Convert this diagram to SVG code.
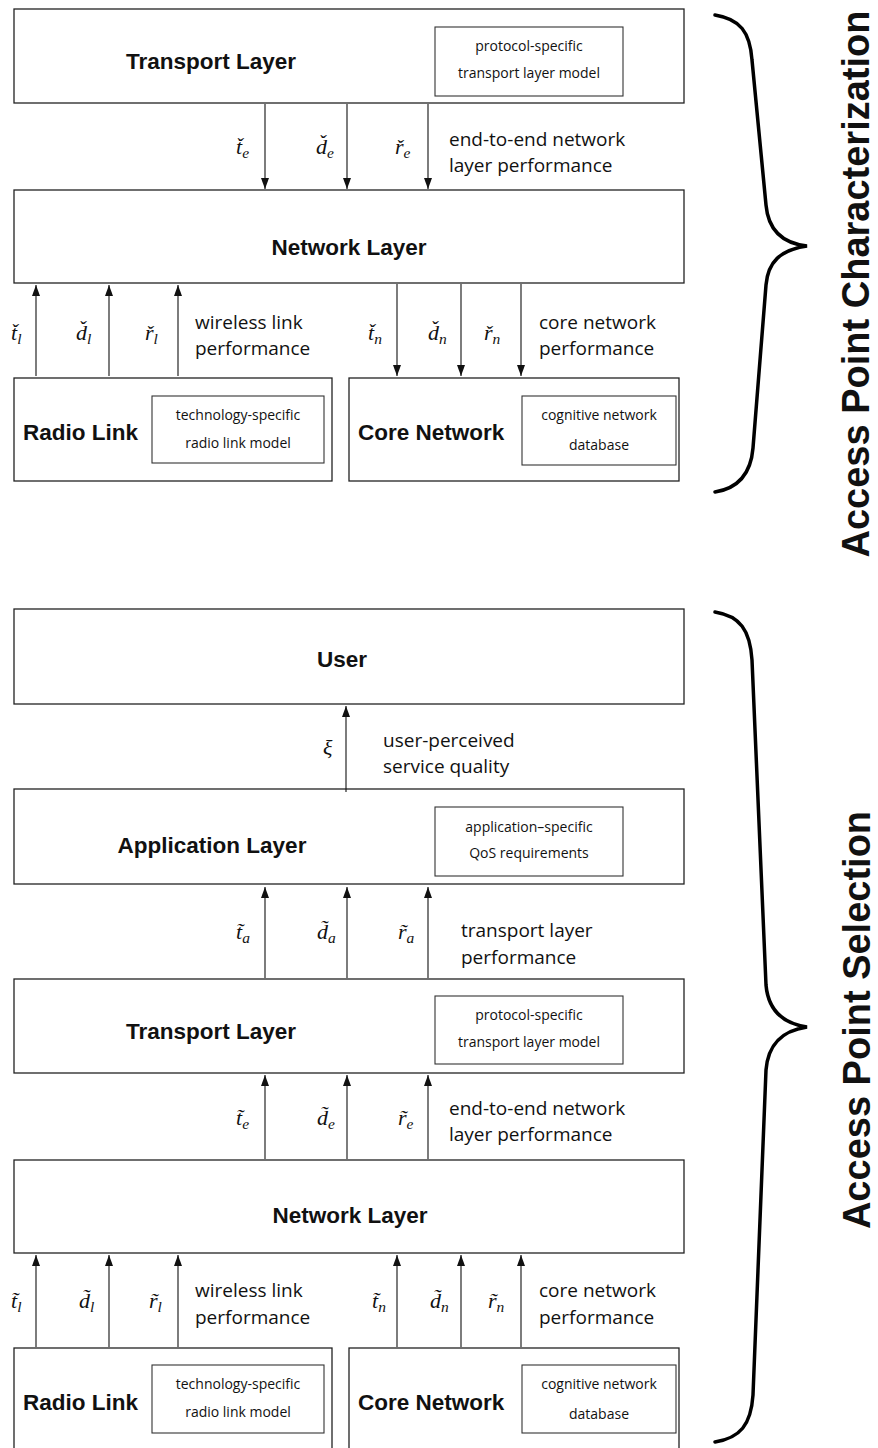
<svg xmlns="http://www.w3.org/2000/svg" width="878" height="1448" viewBox="0 0 878 1448">
<style>
.box{fill:#fff;stroke:#222;stroke-width:1.3}
.inner{fill:#fff;stroke:#333;stroke-width:1.1}
.title{font-family:"Liberation Sans",Arial,sans-serif;font-weight:bold;font-size:22.5px;fill:#111}
.mid{text-anchor:middle}
.small{font-family:"Open Sans","DejaVu Sans",sans-serif;font-size:14px;fill:#111;text-anchor:middle}
.lbl{font-family:"Open Sans","DejaVu Sans",sans-serif;font-size:19px;fill:#111}
.mi{font-family:"Liberation Serif","Times New Roman",serif;font-style:italic;font-size:22px;fill:#111}
.sb{font-size:15.5px}
.arr{stroke:#111;stroke-width:1.1;fill:none;marker-end:url(#ah)}
.brace{fill:none;stroke:#000;stroke-width:3.5;stroke-linecap:round}
.side{font-family:"Liberation Sans",Arial,sans-serif;font-weight:bold;font-size:38px;fill:#111;text-anchor:middle}
</style>
<defs>
<marker id="ah" viewBox="0 0 11 8" refX="11" refY="4" markerWidth="11" markerHeight="8" markerUnits="userSpaceOnUse" orient="auto">
<path d="M0,0 L11,4 L0,8 z" fill="#111"/>
</marker>
</defs>

<!-- ===== Access Point Characterization ===== -->
<g id="ch-transport">
<rect class="box" x="14" y="9" width="670" height="94"/>
<text class="title mid" x="211" y="69">Transport Layer</text>
<rect class="inner" x="435" y="27" width="188" height="69"/>
<text class="small" x="529" y="51">protocol-specific</text>
<text class="small" x="529" y="78">transport layer model</text>
</g>
<g id="ch-network">
<rect class="box" x="14" y="190" width="670" height="93"/>
<text class="title mid" x="349" y="255">Network Layer</text>
</g>
<g id="ch-radio">
<rect class="box" x="14" y="378" width="318" height="103"/>
<text class="title" x="23" y="440">Radio Link</text>
<rect class="inner" x="152" y="396" width="172" height="67"/>
<text class="small" x="238" y="420">technology-specific</text>
<text class="small" x="238" y="448">radio link model</text>
</g>
<g id="ch-core">
<rect class="box" x="349" y="378" width="330" height="103"/>
<text class="title" x="358" y="440">Core Network</text>
<rect class="inner" x="522" y="396" width="154" height="69"/>
<text class="small" x="599" y="420">cognitive network</text>
<text class="small" x="599" y="450">database</text>
</g>

<!-- ===== Access Point Selection ===== -->
<g id="sel-user">
<rect class="box" x="14" y="609" width="670" height="95"/>
<text class="title mid" x="342" y="667">User</text>
</g>
<g id="sel-application">
<rect class="box" x="14" y="789" width="670" height="95"/>
<text class="title mid" x="212" y="853">Application Layer</text>
<rect class="inner" x="435" y="807" width="188" height="69"/>
<text class="small" x="529" y="832">application–specific</text>
<text class="small" x="529" y="858">QoS requirements</text>
</g>
<g id="sel-transport">
<rect class="box" x="14" y="979" width="670" height="94"/>
<text class="title mid" x="211" y="1039">Transport Layer</text>
<rect class="inner" x="435" y="996" width="188" height="68"/>
<text class="small" x="529" y="1020">protocol-specific</text>
<text class="small" x="529" y="1047">transport layer model</text>
</g>
<g id="sel-network">
<rect class="box" x="14" y="1160" width="670" height="93"/>
<text class="title mid" x="350" y="1223">Network Layer</text>
</g>
<g id="sel-radio">
<rect class="box" x="14" y="1348" width="318" height="110"/>
<text class="title" x="23" y="1410">Radio Link</text>
<rect class="inner" x="152" y="1365" width="172" height="68"/>
<text class="small" x="238" y="1389">technology-specific</text>
<text class="small" x="238" y="1417">radio link model</text>
</g>
<g id="sel-core">
<rect class="box" x="349" y="1348" width="330" height="110"/>
<text class="title" x="358" y="1410">Core Network</text>
<rect class="inner" x="522" y="1365" width="154" height="68"/>
<text class="small" x="599" y="1389">cognitive network</text>
<text class="small" x="599" y="1419">database</text>
</g>

<!-- ===== connectors ===== -->
<g id="connectors">
<line class="arr" x1="265" y1="104" x2="265" y2="189"/>
<line class="arr" x1="347" y1="104" x2="347" y2="189"/>
<line class="arr" x1="428" y1="104" x2="428" y2="189"/>
<line class="arr" x1="36" y1="376" x2="36" y2="285"/>
<line class="arr" x1="109" y1="376" x2="109" y2="285"/>
<line class="arr" x1="178" y1="376" x2="178" y2="285"/>
<line class="arr" x1="397" y1="284" x2="397" y2="376"/>
<line class="arr" x1="461" y1="284" x2="461" y2="376"/>
<line class="arr" x1="521" y1="284" x2="521" y2="376"/>

<line class="arr" x1="346" y1="792" x2="346" y2="706"/>
<line class="arr" x1="265" y1="978" x2="265" y2="887"/>
<line class="arr" x1="347" y1="978" x2="347" y2="887"/>
<line class="arr" x1="428" y1="978" x2="428" y2="887"/>
<line class="arr" x1="265" y1="1159" x2="265" y2="1075"/>
<line class="arr" x1="347" y1="1159" x2="347" y2="1075"/>
<line class="arr" x1="428" y1="1159" x2="428" y2="1075"/>
<line class="arr" x1="36" y1="1347" x2="36" y2="1255"/>
<line class="arr" x1="109" y1="1347" x2="109" y2="1255"/>
<line class="arr" x1="178" y1="1347" x2="178" y2="1255"/>
<line class="arr" x1="397" y1="1347" x2="397" y2="1255"/>
<line class="arr" x1="461" y1="1347" x2="461" y2="1255"/>
<line class="arr" x1="521" y1="1347" x2="521" y2="1255"/>
</g>

<!-- ===== connector labels ===== -->
<g id="labels">
<!-- top e -->
<text class="mi" x="236" y="154">t͏̌<tspan class="sb" dy="4">e</tspan></text>
<text class="mi" x="316" y="154">d͏̌<tspan class="sb" dy="4">e</tspan></text>
<text class="mi" x="395" y="154">ř<tspan class="sb" dy="4">e</tspan></text>
<text class="lbl" x="449" y="146">end-to-end network</text>
<text class="lbl" x="449" y="172">layer performance</text>
<!-- top l -->
<text class="mi" x="11" y="340">t͏̌<tspan class="sb" dy="4">l</tspan></text>
<text class="mi" x="76" y="340">d͏̌<tspan class="sb" dy="4">l</tspan></text>
<text class="mi" x="145" y="340">ř<tspan class="sb" dy="4">l</tspan></text>
<text class="lbl" x="195" y="329">wireless link</text>
<text class="lbl" x="195" y="355">performance</text>
<!-- top n -->
<text class="mi" x="368" y="340">t͏̌<tspan class="sb" dy="4">n</tspan></text>
<text class="mi" x="428" y="340">d͏̌<tspan class="sb" dy="4">n</tspan></text>
<text class="mi" x="484" y="340">ř<tspan class="sb" dy="4">n</tspan></text>
<text class="lbl" x="539" y="329">core network</text>
<text class="lbl" x="539" y="355">performance</text>
<!-- xi -->
<text class="mi" x="323" y="755">ξ</text>
<text class="lbl" x="383" y="747">user-perceived</text>
<text class="lbl" x="383" y="773">service quality</text>
<!-- a -->
<text class="mi" x="236" y="939">t̃<tspan class="sb" dy="4">a</tspan></text>
<text class="mi" x="317" y="939">d̃<tspan class="sb" dy="4">a</tspan></text>
<text class="mi" x="398" y="939">r̃<tspan class="sb" dy="4">a</tspan></text>
<text class="lbl" x="461" y="937">transport layer</text>
<text class="lbl" x="461" y="964">performance</text>
<!-- bottom e -->
<text class="mi" x="236" y="1125">t̃<tspan class="sb" dy="4">e</tspan></text>
<text class="mi" x="317" y="1125">d̃<tspan class="sb" dy="4">e</tspan></text>
<text class="mi" x="398" y="1125">r̃<tspan class="sb" dy="4">e</tspan></text>
<text class="lbl" x="449" y="1115">end-to-end network</text>
<text class="lbl" x="449" y="1141">layer performance</text>
<!-- bottom l -->
<text class="mi" x="11" y="1308">t̃<tspan class="sb" dy="4">l</tspan></text>
<text class="mi" x="79" y="1308">d̃<tspan class="sb" dy="4">l</tspan></text>
<text class="mi" x="149" y="1308">r̃<tspan class="sb" dy="4">l</tspan></text>
<text class="lbl" x="195" y="1297">wireless link</text>
<text class="lbl" x="195" y="1324">performance</text>
<!-- bottom n -->
<text class="mi" x="372" y="1308">t̃<tspan class="sb" dy="4">n</tspan></text>
<text class="mi" x="430" y="1308">d̃<tspan class="sb" dy="4">n</tspan></text>
<text class="mi" x="488" y="1308">r̃<tspan class="sb" dy="4">n</tspan></text>
<text class="lbl" x="539" y="1297">core network</text>
<text class="lbl" x="539" y="1324">performance</text>
</g>

<!-- ===== braces and side titles ===== -->
<g id="brace-characterization">
<path class="brace" d="M715,15 C740,19 750,32 752,60 L766,205 C768,228 780,243 807,246 C780,250 768,262 766,285 L753,448 C751,472 740,488 715,492"/>
<text class="side" transform="translate(869,284) rotate(-90)">Access Point Characterization</text>
</g>
<g id="brace-selection">
<path class="brace" d="M715,612 C740,616 750,630 752,660 L766,985 C768,1008 780,1023 807,1027 C780,1031 768,1046 766,1070 L753,1395 C751,1425 740,1438 715,1442"/>
<text class="side" transform="translate(870,1020) rotate(-90)">Access Point Selection</text>
</g>
</svg>
